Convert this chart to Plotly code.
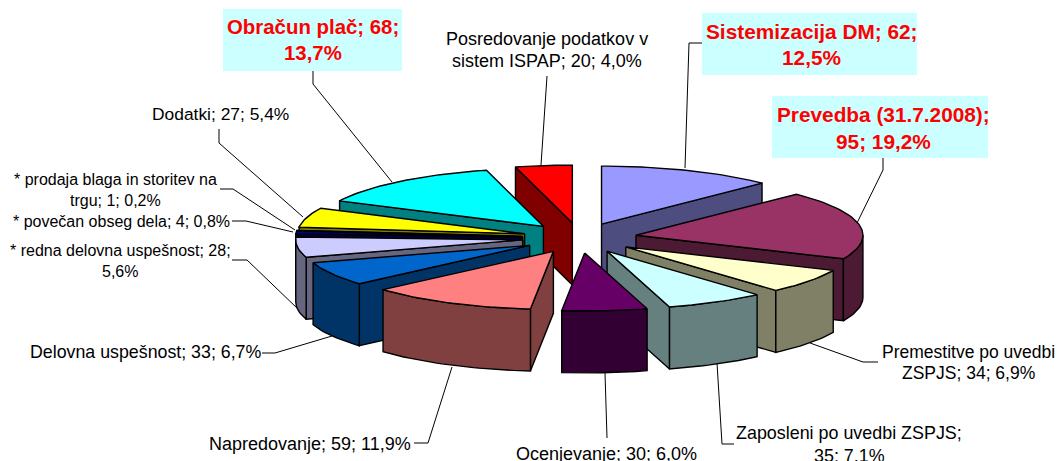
import math
import plotly.graph_objects as go

# ---- data ----
NAMES = ["Sistemizacija DM", "Prevedba (31.7.2008)", "Premestitve po uvedbi ZSPJS",
         "Zaposleni po uvedbi ZSPJS", "Ocenjevanje", "Napredovanje", "Delovna uspešnost",
         "* redna delovna uspešnost", "* povečan obseg dela",
         "* prodaja blaga in storitev na trgu", "Dodatki", "Obračun plač",
         "Posredovanje podatkov v sistem ISPAP"]
VALUES = [62, 95, 34, 35, 30, 59, 33, 28, 4, 1, 27, 68, 20]
TOP_COLORS = ["#9999FF", "#993366", "#FFFFCC", "#CCFFFF", "#660066", "#FF8080", "#0066CC",
              "#CCCCFF", "#000080", "#FF00FF", "#FFFF00", "#00FFFF", "#FF0000"]
WALL_COLORS = ["#4D4D80", "#4D1A33", "#808066", "#668080", "#330033", "#804040", "#003366",
               "#666680", "#000040", "#800080", "#808000", "#008080", "#800000"]
LABEL_LINES = [
    ["Sistemizacija DM; 62;", "12,5%"],
    ["Prevedba (31.7.2008);", "95; 19,2%"],
    ["Premestitve po uvedbi", "ZSPJS; 34; 6,9%"],
    ["Zaposleni po uvedbi ZSPJS;", "35; 7,1%"],
    ["Ocenjevanje; 30; 6,0%"],
    ["Napredovanje; 59; 11,9%"],
    ["Delovna uspešnost; 33; 6,7%"],
    ["* redna delovna uspešnost; 28;", "5,6%"],
    ["* povečan obseg dela; 4; 0,8%"],
    ["* prodaja blaga in storitev na", "trgu; 1; 0,2%"],
    ["Dodatki; 27; 5,4%"],
    ["Obračun plač; 68;", "13,7%"],
    ["Posredovanje podatkov v", "sistem ISPAP; 20; 4,0%"],
]
HIGHLIGHTED = [0, 1, 11]

# ---- layout constants (pixel-space axes) ----
W, H = 1058, 461
CX, CY = 579.6, 238.0      # pie centre
RX, RY = 227.0, 58.0       # ellipse radii of the tilted disc
EX, EY = 57.3, 15.0        # explosion offset
DEPTH = 62.0
DRAW_ORDER = [0, 12, 1, 11, 10, 9, 8, 7, 6, 2, 3, 5, 4]

LABEL_POS = {0: (811.5, [31, 57]), 1: (883, [114, 141]), 2: (968, [352, 373]),
             3: (849, [433, 456]), 4: (606, [454]), 5: (310, [444]), 6: (145, [352]),
             7: (120, [250, 271]), 8: (121, [221]), 9: (115, [179, 200]),
             10: (220, [114]), 11: (313, [27, 53]), 12: (547, [39, 61])}
LABEL_FONT = [20.8, 20.8, 17.5, 17.9, 18, 18, 17.8, 16, 16, 16, 17.4, 20.4, 18]
BOXES = [(702, 13, 917, 75), (772, 96, 988, 158), (223, 9, 402, 71)]
LEADERS = [
    [(702, 43), (689, 43), (685, 168)],
    [(883, 158), (883, 170), (857, 223)],
    [(878, 362), (863, 362), (810, 343)],
    [(734, 444), (722, 444), (717, 363)],
    [(607, 438), (605, 373)],
    [(414, 443), (428, 443), (452, 367)],
    [(262, 353), (275, 353), (332, 336)],
    [(232, 260), (247, 260), (298, 309)],
    [(232, 221), (246, 221), (293, 232)],
    [(220, 189), (233, 189), (295, 230)],
    [(219, 129), (219, 143), (303, 217)],
    [(313, 71), (313, 84), (392, 182)],
    [(547, 76), (541, 165)],
]

total = sum(VALUES)
starts, ends = [], []
acc = 0
for v in VALUES:
    starts.append(acc / total * 360)
    acc += v
    ends.append(acc / total * 360)


def rim(ax, ay, deg, dz=0.0):
    r = math.radians(deg)
    return ax + RX * math.sin(r), ay - RY * math.cos(r) + dz


def arc(ax, ay, a, b, dz=0.0):
    n = max(2, int(abs(b - a) / 1.5) + 1)
    return [rim(ax, ay, a + (b - a) * k / n, dz) for k in range(n + 1)]


fig = go.Figure()


def poly(points, color):
    xs = [p[0] for p in points] + [points[0][0]]
    ys = [p[1] for p in points] + [points[0][1]]
    fig.add_trace(go.Scatter(x=xs, y=ys, mode="lines", fill="toself", fillcolor=color,
                             line=dict(color="#000000", width=1.4), hoverinfo="skip",
                             showlegend=False))


for i in DRAW_ORDER:
    a, b = starts[i], ends[i]
    m = math.radians((a + b) / 2)
    ax, ay = CX + EX * math.sin(m), CY - EY * math.cos(m)
    wall = WALL_COLORS[i]
    # walls facing the viewer
    if math.sin(math.radians(a)) < -1e-6:
        p = rim(ax, ay, a)
        poly([(ax, ay), p, (p[0], p[1] + DEPTH), (ax, ay + DEPTH)], wall)
    if math.sin(math.radians(b)) > 1e-6:
        p = rim(ax, ay, b)
        poly([(ax, ay), p, (p[0], p[1] + DEPTH), (ax, ay + DEPTH)], wall)
    lo, hi = max(a, 90), min(b, 270)
    if lo < hi:
        poly(arc(ax, ay, lo, hi) + arc(ax, ay, hi, lo, DEPTH), wall)
    # top face
    poly([(ax, ay)] + arc(ax, ay, a, b), TOP_COLORS[i])

shapes = [dict(type="rect", x0=x0, y0=y0, x1=x1, y1=y1, fillcolor="#CCFFFF",
               line=dict(width=0), layer="below") for x0, y0, x1, y1 in BOXES]
for pts in LEADERS:
    path = "M" + " L".join(f"{x},{y}" for x, y in pts)
    shapes.append(dict(type="path", path=path, line=dict(color="#000000", width=1), layer="below"))

annotations = []
for i, lines in enumerate(LABEL_LINES):
    x, ys = LABEL_POS[i]
    hl = i in HIGHLIGHTED
    for text, y in zip(lines, ys):
        annotations.append(dict(
            x=x, y=y, text=f"<b>{text}</b>" if hl else text, showarrow=False,
            xanchor="center", yanchor="middle",
            font=dict(family="Liberation Sans", size=LABEL_FONT[i],
                      color="#FF0000" if hl else "#000000")))

fig.update_layout(
    width=W, height=H, margin=dict(l=0, r=0, t=0, b=0),
    paper_bgcolor="#FFFFFF", plot_bgcolor="#FFFFFF", showlegend=False,
    xaxis=dict(range=[0, W], visible=False, fixedrange=True),
    yaxis=dict(range=[H, 0], visible=False, fixedrange=True),
    shapes=shapes, annotations=annotations,
)
fig.write_html("out.html", config={"displayModeBar": False},
               post_script="document.body.style.margin='0';document.body.style.overflow='hidden';")
